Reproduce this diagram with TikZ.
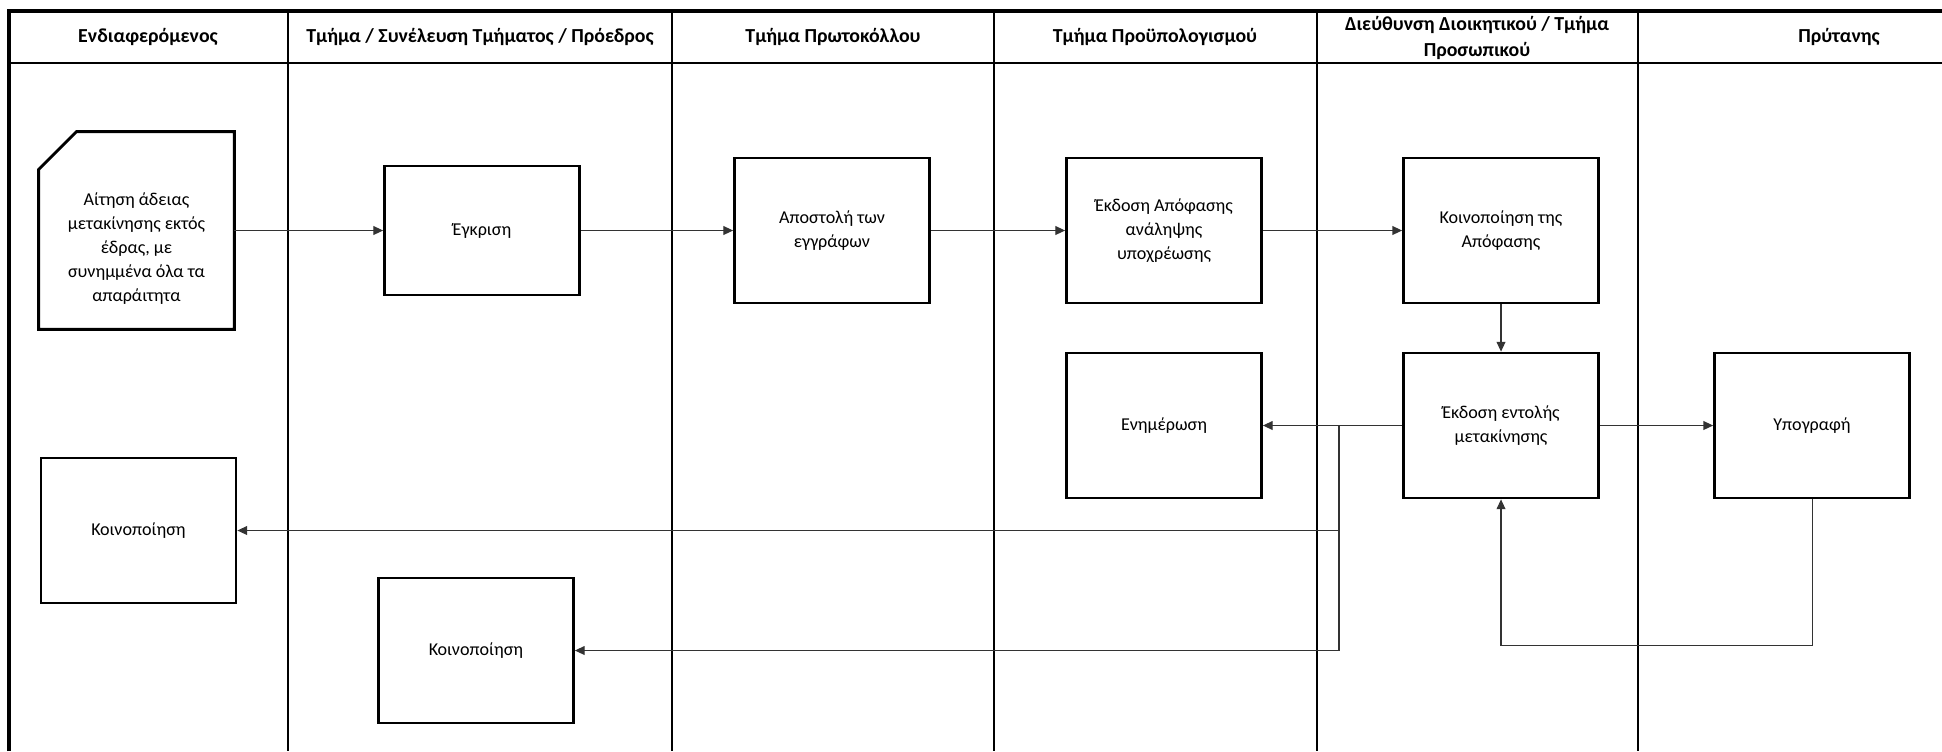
\documentclass[tikz,border=0pt]{standalone}
\usepackage{fontspec}
\setmainfont{Carlito}
\usetikzlibrary{arrows.meta}

\begin{document}
\begin{tikzpicture}[x=0.02cm,y=-0.02cm,
    box/.style={draw,line width=1.6pt,minimum width=3.9cm,minimum height=2.9cm,
      inner sep=0pt,align=center,font=\fontsize{10.3}{13.6}\selectfont},
    hdr/.style={align=center,font=\fontsize{11.3}{14.5}\selectfont\bfseries},
    lane/.style={line width=1pt},
    link/.style={line width=0.6pt,black!80,-{Triangle[length=5.5pt,width=5pt]}}]
  \useasboundingbox (0,0) rectangle (1942,751);
  % frame and swimlanes
  \draw[line width=2.3pt] (9,751) -- (9,11) -- (1942,11);
  \draw[line width=1.5pt] (9,63) -- (1942,63);
  \foreach \x in {288,672,994,1317,1638} \draw[lane] (\x,11) -- (\x,751);
  \node[hdr] (h1) at (148,37) {Ενδιαφερόμενος};
  \node[hdr] (h2) at (480,37) {Τμήμα / Συνέλευση Τμήματος / Πρόεδρος};
  \node[hdr] (h3) at (833,37) {Τμήμα Πρωτοκόλλου};
  \node[hdr] (h4) at (1155,37) {Τμήμα Προϋπολογισμού};
  \node[hdr] (h5) at (1477,38) {Διεύθυνση Διοικητικού / Τμήμα\\Προσωπικού};
  \node[hdr] (h6) at (1839,37) {Πρύτανης};
  % the request, a box with a cut corner
  \node[box,draw=none,minimum width=3.86cm,minimum height=3.9cm] (req) at (136.5,230.5) {};
  \draw[line width=1.6pt] ([xshift=0.76cm]req.north west) -- (req.north east) --
    (req.south east) -- (req.south west) -- ([yshift=-0.76cm]req.north west) -- cycle;
  \node[box,draw=none,minimum size=0pt] (reqtxt) at ([yshift=-0.36cm]req.center)
    {Αίτηση άδειας\\μετακίνησης εκτός\\έδρας, με\\συνημμένα όλα τα\\απαράιτητα};
  \node[box,minimum height=2.58cm] (egk) at (482,230.5) {Έγκριση};
  \node[box] (apo) at (832,230.5) {Αποστολή των\\εγγράφων};
  \node[box] (ekd) at (1164,230.5) {Έκδοση Απόφασης\\ανάληψης\\υποχρέωσης};
  \node[box] (koin) at (1501,230.5) {Κοινοποίηση της\\Απόφασης};
  \node[box] (enim) at (1164,425.5) {Ενημέρωση};
  \node[box] (ent) at (1501,425.5) {Έκδοση εντολής\\μετακίνησης};
  \node[box] (ypo) at (1812,425.5) {Υπογραφή};
  \node[box] (koinL) at (138.5,530.5) {Κοινοποίηση};
  \node[box] (koin2) at (476,650.5) {Κοινοποίηση};
  \coordinate (bend) at (1339,425.5);
  % connectors
  \draw[link] (req) -- (egk);
  \draw[link] (egk) -- (apo);
  \draw[link] (apo) -- (ekd);
  \draw[link] (ekd) -- (koin);
  \draw[link] (koin) -- (ent);
  \draw[link] (ent) -- (ypo);
  \draw[link] (ent) -- (enim);
  \draw[link] (ent.west) -- (bend) |- (koinL.east);
  \draw[link] (bend) |- (koin2.east);
  \draw[link] (ypo.south) -- ++(0,146) -| (ent.south);
\end{tikzpicture}
\end{document}
